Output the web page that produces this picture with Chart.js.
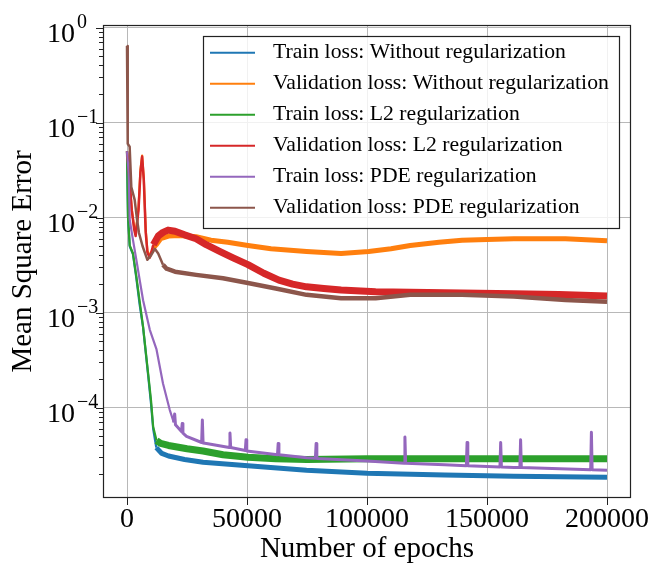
<!DOCTYPE html>
<html>
<head>
<meta charset="utf-8">
<script src="https://cdn.jsdelivr.net/npm/chart.js@4.4.0/dist/chart.umd.min.js"></script>
<style>
  html, body { margin: 0; padding: 0; background: #fff; }
  canvas { display: block; }
</style>
</head>
<body>
<canvas id="lossChart" width="651" height="564"></canvas>
<script>
// values (epoch, MSE)
const seriesLabels = [
    "Train loss: Without regularization",
    "Validation loss: Without regularization",
    "Train loss: L2 regularization",
    "Validation loss: L2 regularization",
    "Train loss: PDE regularization",
    "Validation loss: PDE regularization"
];

const blueEpochs = [0, 420, 1130, 2500, 3900, 5300, 6700, 8800, 10000, 10900, 12200, 14500, 17300, 24000, 31700, 50400, 74800, 100000, 132400, 161200, 200000];
const blueLoss = [0.05, 0.0102, 0.005, 0.0041, 0.0023, 0.0012, 0.0007, 0.00022, 0.00011, 6e-5, 3.8e-5, 3.3e-5, 3.1e-5, 2.85e-5, 2.66e-5, 2.45e-5, 2.2e-5, 2.04e-5, 1.95e-5, 1.9e-5, 1.85e-5];

const orangeEpochs = [0, 800, 2000, 3000, 3600, 4800, 5600, 6300, 7000, 7800, 8500, 9500, 11000, 12200, 14000, 17300, 22000, 28800, 35000, 42000, 50400, 60000, 74800, 89200, 100700, 110000, 118000, 130000, 139600, 150000, 161200, 182700, 200000];
const orangeLoss = [0.05, 0.03, 0.012, 0.008, 0.0068, 0.013, 0.032, 0.045, 0.026, 0.0075, 0.0045, 0.0040, 0.0048, 0.0052, 0.0060, 0.0064, 0.0065, 0.0063, 0.0058, 0.0055, 0.0051, 0.0047, 0.0044, 0.0042, 0.0044, 0.0047, 0.0051, 0.0055, 0.0058, 0.0059, 0.0060, 0.0060, 0.0057];

const greenEpochs = [0, 420, 1130, 2500, 3900, 5300, 6700, 8800, 10000, 10900, 12300, 14000, 17300, 25000, 31700, 40000, 50400, 62000, 75000, 100000, 130000, 160000, 200000];
const greenLoss = [0.05, 0.0102, 0.0051, 0.0042, 0.0024, 0.0013, 0.00071, 0.00023, 0.00012, 6.3e-5, 4.5e-5, 4.2e-5, 4.0e-5, 3.7e-5, 3.5e-5, 3.2e-5, 3.0e-5, 2.9e-5, 2.85e-5, 2.9e-5, 2.9e-5, 2.9e-5, 2.9e-5];

const redEpochs = [0, 800, 2000, 3000, 3600, 4800, 5600, 6300, 7000, 7800, 8500, 9500, 11000, 13000, 15000, 17100, 20000, 24000, 28800, 33000, 38800, 44000, 50400, 57000, 63300, 69000, 74800, 82000, 89200, 103600, 132400, 161200, 180000, 200000];
const redLoss = [0.05, 0.03, 0.012, 0.0075, 0.0064, 0.012, 0.03, 0.044, 0.025, 0.007, 0.0043, 0.0038, 0.0052, 0.0064, 0.0070, 0.0074, 0.0072, 0.0066, 0.0060, 0.0052, 0.0044, 0.0038, 0.0032, 0.0026, 0.0022, 0.0020, 0.00187, 0.0018, 0.00173, 0.00166, 0.00162, 0.00158, 0.00155, 0.0015];

// purple has visible spikes, kept as single raised points
const purpleEpochs = [0, 700, 1130, 2500, 3900, 5300, 6700, 9500, 12300, 15000, 17800, 19500, 19860, 20200, 22700, 23000, 23300, 24800, 31100, 31400, 31700, 33100, 42600, 42900, 43200, 49300, 49600, 49900, 62700, 63000, 63300, 74800, 78500, 78800, 79100, 100000, 115500, 115800, 116100, 132400, 141400, 141700, 142000, 155400, 155700, 156000, 161200, 163700, 164000, 164300, 193200, 193500, 193800, 200000];
const purpleLoss = [0.05, 0.03, 0.0095, 0.0058, 0.0036, 0.0022, 0.00135, 0.00066, 0.00041, 0.00018, 9.5e-5, 7.0e-5, 8.6e-5, 6.6e-5, 5.6e-5, 6.8e-5, 5.4e-5, 5.0e-5, 4.3e-5, 7.4e-5, 4.25e-5, 4.2e-5, 3.8e-5, 5.4e-5, 3.8e-5, 3.55e-5, 4.6e-5, 3.5e-5, 3.2e-5, 4.2e-5, 3.2e-5, 2.97e-5, 2.93e-5, 4.2e-5, 2.92e-5, 2.74e-5, 2.6e-5, 4.9e-5, 2.6e-5, 2.5e-5, 2.45e-5, 4.3e-5, 2.45e-5, 2.38e-5, 4.3e-5, 2.38e-5, 2.35e-5, 2.34e-5, 4.6e-5, 2.34e-5, 2.22e-5, 5.5e-5, 2.22e-5, 2.2e-5];

const brownEpochs = [0, 300, 1100, 1800, 3200, 4200, 5000, 6500, 8500, 10000, 11600, 13000, 15000, 16500, 20000, 28800, 40000, 50400, 62000, 74800, 89200, 103600, 118000, 139600, 161200, 182700, 200000];
const brownLoss = [0.64, 0.06, 0.056, 0.021, 0.0154, 0.0095, 0.0069, 0.0050, 0.0036, 0.0040, 0.0047, 0.0042, 0.0032, 0.0029, 0.0027, 0.0025, 0.0023, 0.00205, 0.0018, 0.00154, 0.00142, 0.00142, 0.00154, 0.00154, 0.00148, 0.00136, 0.0013];

const xTickValues = [0, 50000, 100000, 150000, 200000];

// styling: noisy part of each curve is drawn as a thicker band
const colors = ["#1f77b4", "#ff7f0e", "#2ca02c", "#d62728", "#9467bd", "#8c564b"];
const thinWidths = [2.2, 2.2, 2.2, 2.5, 2.2, 2.5];
const bandWidths = [5, 5, 7, 7, 3, 4.5];
const bandFrom = [11000, 11000, 11000, 11000, 18000, 15000];
const allEpochs = [blueEpochs, orangeEpochs, greenEpochs, redEpochs, purpleEpochs, brownEpochs];
const allLoss = [blueLoss, orangeLoss, greenLoss, redLoss, purpleLoss, brownLoss];

const FONT = '"Liberation Serif", "Times New Roman", serif';
Chart.defaults.font.family = FONT;
Chart.defaults.color = "#000";

// matplotlib style: frame, y ticks with 10^n labels, legend inside the axes
const mplPlugin = {
    id: "mplStyle",
    afterDatasetsDraw(chart) {
        const ctx = chart.ctx;
        const a = chart.chartArea;
        const y = chart.scales.y;
        ctx.save();

        ctx.strokeStyle = "#222";
        ctx.lineWidth = 1;
        y.ticks.forEach(t => {
            const py = Math.round(y.getPixelForValue(t.value)) + 0.5;
            const len = t.major ? 7 : 4;
            ctx.beginPath();
            ctx.moveTo(a.left - len, py);
            ctx.lineTo(a.left, py);
            ctx.stroke();
            if (t.major) {
                const exp = Math.round(Math.log10(t.value));
                const sup = exp < 0 ? "\u2212" + (-exp) : String(exp);
                ctx.fillStyle = "#000";
                ctx.textBaseline = "alphabetic";
                ctx.textAlign = "left";
                ctx.font = "28px " + FONT;
                ctx.fillText("10", 47, py + 13);
                ctx.font = "20px " + FONT;
                ctx.fillText(sup, 77, py - 1);
            }
        });

        ctx.strokeStyle = "#222";
        ctx.lineWidth = 1.2;
        ctx.strokeRect(a.left + 0.5, a.top + 0.5, a.right - a.left - 1, a.bottom - a.top - 1);

        // legend
        const lx = a.left + 100, ly = a.top + 11, lw = 416, lh = 192;
        ctx.fillStyle = "rgba(255,255,255,0.8)";
        ctx.fillRect(lx, ly, lw, lh);
        ctx.strokeRect(lx + 0.5, ly + 0.5, lw, lh);
        chart.data.datasets.forEach((ds, i) => {
            const yy = ly + 16.7 + i * 31;
            ctx.strokeStyle = ds.borderColor;
            ctx.lineWidth = 2;
            ctx.beginPath();
            ctx.moveTo(lx + 7, yy);
            ctx.lineTo(lx + 52, yy);
            ctx.stroke();
            ctx.fillStyle = "#000";
            ctx.font = "21.7px " + FONT;
            ctx.textBaseline = "middle";
            ctx.textAlign = "left";
            ctx.fillText(ds.label, lx + 70, yy);
        });
        ctx.restore();
    }
};

new Chart(document.getElementById("lossChart"), {
    type: "line",
    data: {
        datasets: seriesLabels.map((label, i) => ({
            label: label,
            data: allEpochs[i].map((e, k) => ({ x: e, y: allLoss[i][k] })),
            borderColor: colors[i],
            borderWidth: thinWidths[i],
            segment: {
                borderWidth: c => (c.p0.parsed.x >= bandFrom[i] ? bandWidths[i] : thinWidths[i])
            },
            borderJoinStyle: "round",
            pointRadius: 0,
            tension: 0,
            fill: false,
            order: 6 - i
        }))
    },
    options: {
        responsive: false,
        animation: false,
        devicePixelRatio: 1,
        layout: { padding: { left: 0, top: 25, right: 20, bottom: 0 } },
        plugins: { legend: { display: false }, tooltip: { enabled: false } },
        scales: {
            x: {
                type: "linear",
                min: -10000,
                max: 210000,
                afterBuildTicks: scale => { scale.ticks = xTickValues.map(v => ({ value: v })); },
                afterFit: scale => { scale.height = 66; },
                ticks: {
                    callback: v => String(v),
                    font: { size: 28, lineHeight: 1 },
                    padding: 1,
                    maxRotation: 0,
                    color: "#000"
                },
                grid: { color: "#b8b8b8", lineWidth: 1, drawTicks: true, tickLength: 7, tickColor: "#222" },
                border: { display: false },
                title: {
                    display: true,
                    text: "Number of epochs",
                    font: { size: 29, lineHeight: 1 },
                    padding: { top: 0, bottom: 0 },
                    color: "#000"
                }
            },
            y: {
                type: "logarithmic",
                min: 1.12e-5,
                max: 1.067,
                afterBuildTicks: scale => {
                    const ticks = [];
                    for (let e = -5; e <= 0; e++) {
                        for (let m = 1; m <= 9; m++) {
                            const v = m * Math.pow(10, e);
                            if (v >= scale.min && v <= scale.max) ticks.push({ value: v, major: m === 1 });
                        }
                    }
                    scale.ticks = ticks;
                },
                afterFit: scale => { scale.width = 103; },
                ticks: { display: false },
                grid: {
                    color: c => (c.tick && c.tick.major ? "#b8b8b8" : "rgba(0,0,0,0)"),
                    lineWidth: 1,
                    drawTicks: false
                },
                border: { display: false },
                title: {
                    display: true,
                    text: "Mean Square Error",
                    font: { size: 29, lineHeight: 1 },
                    padding: { top: 9, bottom: 0 },
                    color: "#000"
                }
            }
        }
    },
    plugins: [mplPlugin]
});
</script>
</body>
</html>
